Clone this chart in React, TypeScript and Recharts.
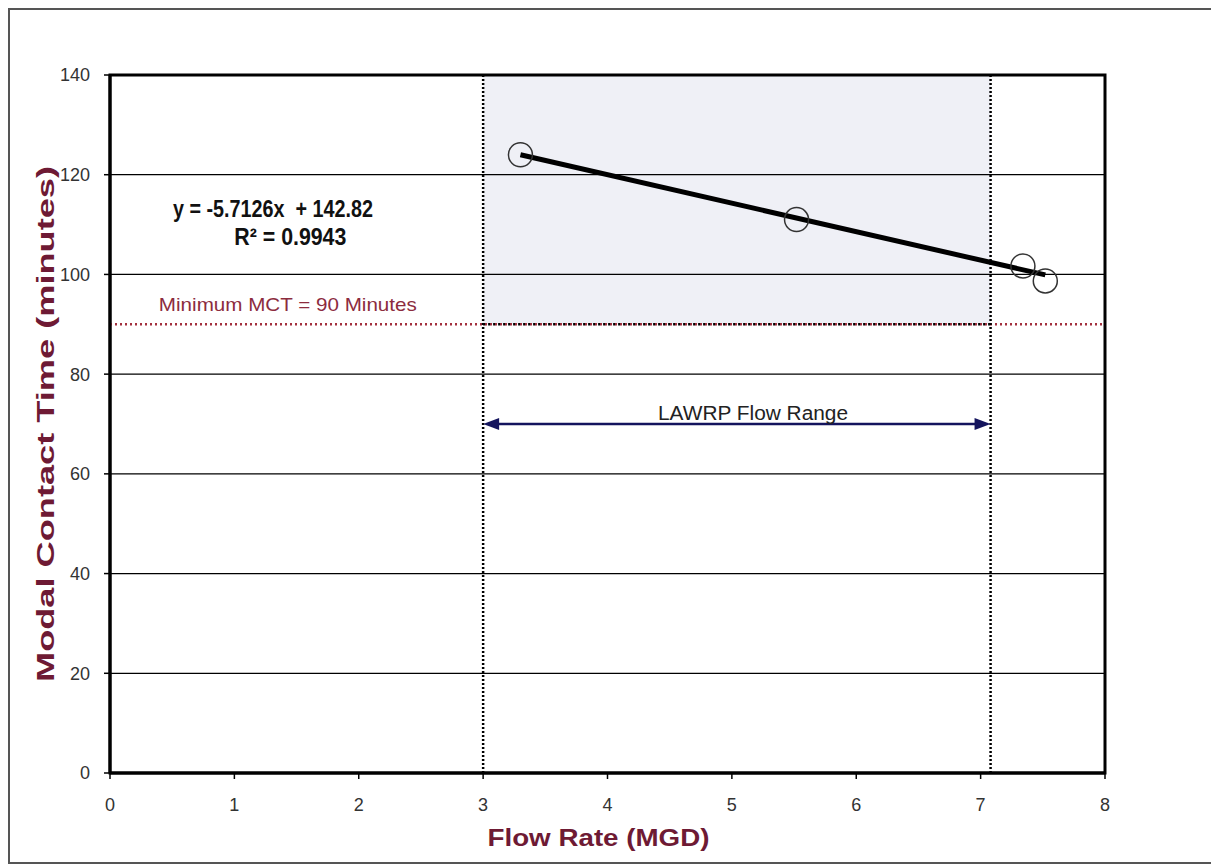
import React from 'react';
import {
  ComposedChart, Line, Scatter, XAxis, YAxis,
  ReferenceLine, ReferenceArea, ReferenceDot, Label,
} from 'recharts';

// measured points (flow rate MGD, modal contact time min)
const points = [
  { x: 3.3, y: 124 },
  { x: 5.52, y: 111 },
  { x: 7.34, y: 101.7 },
  { x: 7.52, y: 98.7 },
];

// linear trendline end points as drawn
const trend = [
  { x: 3.3, y: 124 },
  { x: 7.52, y: 99.9 },
];

const xTicks = [0, 1, 2, 3, 4, 5, 6, 7, 8];
const yTicks = [0, 20, 40, 60, 80, 100, 120, 140];

const flowRange = { from: 3, to: 7.08, arrowY: 70 };
const minMct = 90;

const equationText = 'y = -5.7126x  + 142.82';
const r2Text = 'R² = 0.9943';

const FONT = '"Liberation Sans", Arial, sans-serif';
const MAROON = '#6e1a34';

const Circle = (props: any) => (
  <circle cx={props.cx} cy={props.cy} r={12} fill="none" stroke="#333" strokeWidth={1.5} />
);

const DoubleArrow = (props: any) => {
  const { x1, y1, x2 } = props;
  const c = '#14145e';
  return (
    <g>
      <line x1={x1 + 6} y1={y1} x2={x2 - 6} y2={y1} stroke={c} strokeWidth={2.5} />
      <polygon points={`${x1},${y1} ${x1 + 16},${y1 - 6} ${x1 + 16},${y1 + 6}`} fill={c} />
      <polygon points={`${x2},${y1} ${x2 - 16},${y1 - 6} ${x2 - 16},${y1 + 6}`} fill={c} />
    </g>
  );
};

// text label centred on the reference dot, stretched to the width seen in the original
const centerText = (text: string, size: number, length: number, fill: string, bold = false) => (props: any) => {
  const vb = props.viewBox || {};
  const cx = vb.x + (vb.width || 0) / 2;
  const cy = vb.y + (vb.height || 0) / 2;
  return (
    <text x={cx} y={cy} dy="0.35em" textAnchor="middle" fontSize={size} fontFamily={FONT}
      fontWeight={bold ? 'bold' : 'normal'} fill={fill} textLength={length} lengthAdjust="spacingAndGlyphs"
      style={{ whiteSpace: 'pre' }}>
      {text}
    </text>
  );
};

const App = () => {
  return (
    <div style={{ width: 1205, height: 856, border: '2px solid #555', boxSizing: 'border-box', background: '#fff' }}>
      <ComposedChart
        width={1201}
        height={852}
        margin={{ top: 65, right: 106, bottom: 0, left: 0 }}
        style={{ fontFamily: FONT }}
      >
        <ReferenceArea x1={flowRange.from} x2={flowRange.to} y1={minMct} y2={140} fill="#eff0f6" fillOpacity={1} stroke="none" />
        {yTicks.map((t) => (
          <ReferenceLine key={t} y={t} stroke="#000" strokeWidth={1.2} />
        ))}
        <XAxis
          type="number"
          dataKey="x"
          domain={[0, 8]}
          ticks={xTicks}
          height={89}
          axisLine={{ stroke: '#000', strokeWidth: 3 }}
          tickLine={{ stroke: '#000', strokeWidth: 1.5 }}
          tickSize={6}
          tickMargin={19}
          tick={{ fill: '#333', fontSize: 18, fontFamily: FONT }}
        >
          <Label
            content={(p: any) => {
              const vb = p.viewBox;
              return (
                <text x={vb.x + vb.width / 2 - 9} y={vb.y + vb.height - 16} textAnchor="middle" fontSize={23}
                  fontWeight="bold" fontFamily={FONT} fill={MAROON} textLength={222} lengthAdjust="spacingAndGlyphs">
                  Flow Rate (MGD)
                </text>
              );
            }}
          />
        </XAxis>
        <YAxis
          type="number"
          domain={[0, 140]}
          ticks={yTicks}
          width={100}
          axisLine={{ stroke: '#000', strokeWidth: 3 }}
          tickLine={{ stroke: '#000', strokeWidth: 1.5 }}
          tickSize={6}
          tickMargin={14}
          tick={{ fill: '#333', fontSize: 18, fontFamily: FONT }}
        >
          <Label
            content={(p: any) => {
              const vb = p.viewBox;
              const cx = 35;
              const cy = vb.y + vb.height / 2;
              return (
                <text x={cx} y={cy} dy="0.36em" transform={`rotate(-90 ${cx} ${cy})`} textAnchor="middle" fontSize={24}
                  fontWeight="bold" fontFamily={FONT} fill={MAROON} textLength={516} lengthAdjust="spacingAndGlyphs">
                  Modal Contact Time (minutes)
                </text>
              );
            }}
          />
        </YAxis>

        <ReferenceLine y={minMct} stroke="#a3303f" strokeWidth={2.5} strokeDasharray="2 3" />
        <ReferenceLine
          segment={[{ x: flowRange.from, y: minMct }, { x: flowRange.to, y: minMct }]}
          stroke="#000" strokeWidth={2.5} strokeDasharray="2 3"
        />
        <ReferenceLine x={flowRange.from} stroke="#000" strokeWidth={2.5} strokeDasharray="2 2" />
        <ReferenceLine x={flowRange.to} stroke="#000" strokeWidth={2.5} strokeDasharray="2 2" />
        <ReferenceLine
          segment={[{ x: flowRange.from, y: flowRange.arrowY }, { x: flowRange.to, y: flowRange.arrowY }]}
          shape={DoubleArrow}
        />

        <ReferenceDot x={1.43} y={93.9} r={0} fill="none" stroke="none">
          <Label content={centerText('Minimum MCT = 90 Minutes', 19, 258, '#8c2c3e')} />
        </ReferenceDot>
        <ReferenceDot x={1.31} y={113.3} r={0} fill="none" stroke="none">
          <Label content={centerText(equationText, 24, 200, '#111', true)} />
        </ReferenceDot>
        <ReferenceDot x={1.45} y={107.6} r={0} fill="none" stroke="none">
          <Label content={centerText(r2Text, 24, 112, '#111', true)} />
        </ReferenceDot>
        <ReferenceDot x={5.17} y={72.2} r={0} fill="none" stroke="none">
          <Label content={centerText('LAWRP Flow Range', 20, 190, '#222')} />
        </ReferenceDot>

        <Line data={trend} dataKey="y" stroke="#000" strokeWidth={5} dot={false} isAnimationActive={false} />
        <Scatter data={points} dataKey="y" shape={Circle} isAnimationActive={false} />

        <ReferenceArea x1={0} x2={8} y1={0} y2={140} fill="none" stroke="#000" strokeWidth={3} />
      </ComposedChart>
    </div>
  );
};

export default App;
